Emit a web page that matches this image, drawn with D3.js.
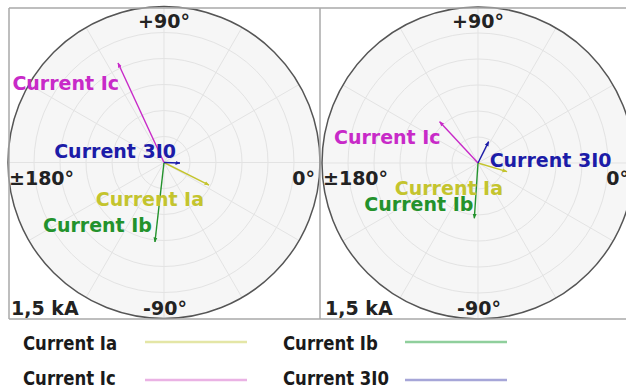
<!DOCTYPE html>
<html>
<head>
<meta charset="utf-8">
<script src="https://cdn.jsdelivr.net/npm/d3@7"></script>
<style>
  html, body { margin: 0; padding: 0; background: #ffffff; }
  svg { display: block; }
  text { font-family: "DejaVu Sans", Verdana, sans-serif; font-weight: bold; }
</style>
</head>
<body>
<svg id="chart" width="626" height="389"></svg>
<script>
// ---------------- data ----------------
const seriesNames = ["Current Ia", "Current Ib", "Current Ic", "Current 3I0"];
const leftMagnitudes = [0.484, 0.769, 1.054, 0.154];   // kA
const leftAngles     = [-26.6, -96.5, 114.8, -2.0];    // degrees
const rightMagnitudes = [0.291, 0.533, 0.542, 0.229];  // kA
const rightAngles     = [-16.7, -93.8, 132.9, 63.5];   // degrees
const angleLabels = ["+90°", "-90°", "±180°", "0°"];
const scaleLabel = "1,5 kA";
const maxMagnitude = 1.5;
const ringSteps = [0.25, 0.5, 0.75, 1.0, 1.25];
const spokeAngles = [0, 30, 60, 90, 120, 150, 180, 210, 240, 270, 300, 330];

// ---------------- styles / layout ----------------
const vectorColors = ["#c4c42e", "#23922c", "#c82ac8", "#1c1ca8"];
const legendColors = ["#e4e6a6", "#8fcf9c", "#eab2e4", "#a6a6d8"];
const panelLayout = [
  { cx: 164, cy: 162.5, mags: leftMagnitudes, angs: leftAngles,
    labelOffsets: [[-5, 21, "end"], [-3, -10, "end"], [1, 27, "end"], [-4, -5, "end"]] },
  { cx: 478, cy: 163, mags: rightMagnitudes, angs: rightAngles,
    labelOffsets: [[-4, 23, "end"], [-1, -7, "end"], [1, 22, "end"], [1, 25, "start"]] }
];
const R = 156;

const svg = d3.select("#chart");
const rScale = d3.scaleLinear().domain([0, maxMagnitude]).range([0, R]);
const toRad = d => d * Math.PI / 180;

// arrow markers
const defs = svg.append("defs");
vectorColors.forEach((c, i) => {
  defs.append("marker")
    .attr("id", "arr" + i)
    .attr("viewBox", "0 0 10 10")
    .attr("refX", 9).attr("refY", 5)
    .attr("markerWidth", 5).attr("markerHeight", 5)
    .attr("markerUnits", "userSpaceOnUse")
    .attr("orient", "auto")
    .append("path").attr("d", "M0,1 L10,5 L0,9 Z").attr("fill", c);
});

// frame
const frame = svg.append("g");
frame.append("rect").attr("x", 9).attr("y", 8).attr("width", 613).attr("height", 311)
  .attr("fill", "#ffffff").attr("stroke", "none");

panelLayout.forEach((p, pi) => {
  const g = svg.append("g").attr("transform", `translate(${p.cx},${p.cy})`);
  // background disk
  g.append("circle").attr("r", R).attr("fill", "#f6f6f6");
  // rings
  g.selectAll("circle.ring").data(ringSteps).enter().append("circle")
    .attr("class", "ring").attr("r", d => rScale(d))
    .attr("fill", "none").attr("stroke", "#e3e3e3").attr("stroke-width", 1);
  // spokes
  g.selectAll("line.spoke").data(spokeAngles).enter().append("line")
    .attr("class", "spoke")
    .attr("x1", 0).attr("y1", 0)
    .attr("x2", d => R * Math.cos(toRad(d)))
    .attr("y2", d => -R * Math.sin(toRad(d)))
    .attr("stroke", "#e3e3e3").attr("stroke-width", 1);
  // outer circle
  g.append("circle").attr("r", R).attr("fill", "none")
    .attr("stroke", "#555555").attr("stroke-width", 1.5);
});

// panel borders
const bc = "#a9a9a9";
svg.append("line").attr("x1", 9).attr("x2", 626).attr("y1", 8).attr("y2", 8).attr("stroke", bc).attr("stroke-width", 1.5);
svg.append("line").attr("x1", 9).attr("x2", 626).attr("y1", 319).attr("y2", 319).attr("stroke", bc).attr("stroke-width", 1.5);
svg.append("line").attr("x1", 9).attr("x2", 9).attr("y1", 8).attr("y2", 319).attr("stroke", bc).attr("stroke-width", 1.5);
svg.append("line").attr("x1", 320).attr("x2", 320).attr("y1", 8).attr("y2", 319).attr("stroke", bc).attr("stroke-width", 1.5);

panelLayout.forEach((p, pi) => {
  const g = svg.append("g").attr("transform", `translate(${p.cx},${p.cy})`);
  // angle labels
  g.append("text").text(angleLabels[0]).attr("x", 0).attr("y", 28 - p.cy)
    .attr("text-anchor", "middle").attr("font-size", 19).attr("fill", "#222");
  g.append("text").text(angleLabels[1]).attr("x", 1).attr("y", 315 - p.cy)
    .attr("text-anchor", "middle").attr("font-size", 19).attr("fill", "#222");
  g.append("text").text(angleLabels[2]).attr("x", -155).attr("y", 185 - p.cy)
    .attr("text-anchor", "start").attr("font-size", 19).attr("fill", "#222");
  g.append("text").text(angleLabels[3]).attr("x", 151).attr("y", 185 - p.cy)
    .attr("text-anchor", "end").attr("font-size", 19).attr("fill", "#222");
  g.append("text").text(scaleLabel).attr("x", -153).attr("y", 315 - p.cy)
    .attr("text-anchor", "start").attr("font-size", 19).attr("fill", "#222");

  const vecs = seriesNames.map((name, i) => {
    const r = rScale(p.mags[i]);
    const a = toRad(p.angs[i]);
    return { name, i, x: r * Math.cos(a), y: -r * Math.sin(a) };
  });
  g.selectAll("line.vec").data(vecs).enter().append("line")
    .attr("class", "vec")
    .attr("x1", 0).attr("y1", 0)
    .attr("x2", d => d.x).attr("y2", d => d.y)
    .attr("stroke", d => vectorColors[d.i]).attr("stroke-width", 1.4)
    .attr("marker-end", d => `url(#arr${d.i})`);
  g.selectAll("text.vlab").data(vecs).enter().append("text")
    .attr("class", "vlab")
    .attr("x", d => d.x + p.labelOffsets[d.i][0])
    .attr("y", d => d.y + p.labelOffsets[d.i][1])
    .attr("text-anchor", d => p.labelOffsets[d.i][2])
    .attr("font-size", 19)
    .attr("fill", d => vectorColors[d.i])
    .text(d => d.name);
});

// legend
const legendPos = [[23, 350, 145, 342], [283, 350, 405, 342], [23, 385, 145, 380], [283, 385, 405, 380]];
const lg = svg.append("g");
seriesNames.forEach((name, i) => {
  const [tx, ty, lx, ly] = legendPos[i];
  lg.append("text").text(name)
    .attr("transform", `translate(${tx},${ty}) scale(0.87,1)`)
    .attr("font-size", 19).attr("fill", "#1a1a1a");
  lg.append("line").attr("x1", lx).attr("x2", lx + 102).attr("y1", ly).attr("y2", ly)
    .attr("stroke", legendColors[i]).attr("stroke-width", 2.5);
});
</script>
</body>
</html>
